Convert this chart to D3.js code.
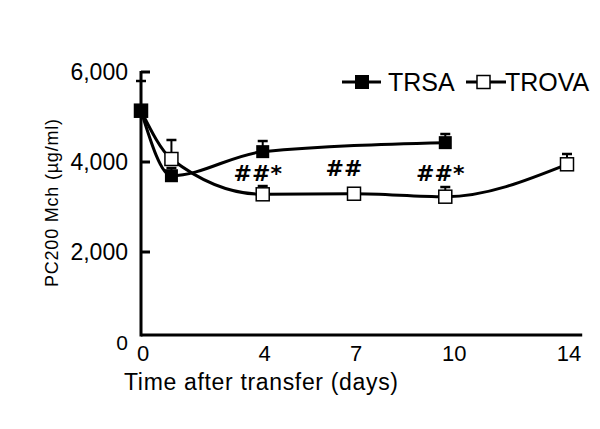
<!DOCTYPE html>
<html lang="en">
<head>
<meta charset="utf-8">
<title>PC200 Mch</title>
<style>
  body { margin: 0; background: #fff; }
  text { font-family: "Liberation Sans", Arial, sans-serif; fill: #000; }
  .annot { font-family: "DejaVu Sans", sans-serif; font-weight: bold; }
</style>
<script src="https://cdn.jsdelivr.net/npm/d3@7"></script>
</head>
<body>
<svg width="600" height="429"></svg>
<script>
// data
const trsaDays = [0, 1, 4, 10];
const trsaValues = [5140, 3695, 4230, 4430];
const trsaErrTop = [5800, 3866, 4466, 4622];
const trovaDays = [0, 1, 4, 7, 10, 14];
const trovaValues = [5140, 4067, 3282, 3295, 3229, 3949];
const trovaErrTop = [5140, 4489, 3466, 3330, 3444, 4178];
const xTicks = [0, 4, 7, 10, 14];
const yTicks = [0, 2000, 4000, 6000];
const annotDays = [4, 7, 10];
const annotLabels = ["##*", "##", "##*"];

const svg = d3.select("svg");
const x = d3.scaleLinear().domain([0, 14]).range([141, 567]);
const y = d3.scaleLinear().domain([0, 6000]).range([342, 72]);
const axisY = y(0) - 7;

// axes
svg.append("line")
    .attr("x1", x(0)).attr("x2", x(14.5))
    .attr("y1", axisY).attr("y2", axisY)
    .attr("stroke", "#000").attr("stroke-width", 3);
svg.append("line")
    .attr("x1", x(0)).attr("x2", x(0))
    .attr("y1", y(6000) - 1).attr("y2", axisY + 1.5)
    .attr("stroke", "#000").attr("stroke-width", 3);
svg.selectAll(".ytick").data(yTicks.filter(d => d > 0)).enter().append("line")
    .attr("x1", x(0)).attr("x2", x(0) + 9)
    .attr("y1", d => y(d)).attr("y2", d => y(d))
    .attr("stroke", "#000").attr("stroke-width", 3);
svg.selectAll(".ylab").data(yTicks).enter().append("text")
    .attr("x", 128).attr("y", d => y(d) + 8)
    .attr("text-anchor", "end")
    .style("font-size", d => d === 0 ? "21px" : "23px")
    .text(d => d3.format(",")(d));
svg.selectAll(".xlab").data(xTicks).enter().append("text")
    .attr("x", d => x(d) + (d === 10 ? 9 : 2))
    .attr("y", 361)
    .attr("text-anchor", "middle")
    .style("font-size", "22px")
    .text(d => d);
svg.append("text")
    .attr("x", 261).attr("y", 390)
    .attr("text-anchor", "middle")
    .style("font-size", "23px")
    .attr("textLength", 274)
    .text("Time after transfer (days)");
svg.append("text")
    .attr("transform", "translate(58,203) rotate(-90)")
    .attr("text-anchor", "middle")
    .style("font-size", "18px")
    .attr("textLength", 168)
    .text("PC200 Mch (µg/ml)");

const line = d3.line().curve(d3.curveMonotoneX).x(d => x(d[0])).y(d => y(d[1]));
const trsa = trsaDays.map((d, i) => [d, trsaValues[i], trsaErrTop[i]]);
const trova = trovaDays.map((d, i) => [d, trovaValues[i], trovaErrTop[i]]);

function errorBars(data) {
    const g = svg.append("g").attr("stroke", "#000");
    g.selectAll("line.v").data(data).enter().append("line")
        .attr("x1", d => x(d[0])).attr("x2", d => x(d[0]))
        .attr("y1", d => y(d[1])).attr("y2", d => y(d[2]))
        .attr("stroke-width", 2);
    g.selectAll("line.c").data(data.filter(d => d[2] > d[1])).enter().append("line")
        .attr("x1", d => x(d[0]) - 5).attr("x2", d => x(d[0]) + 5)
        .attr("y1", d => y(d[2])).attr("y2", d => y(d[2]))
        .attr("stroke-width", 2.5);
}
errorBars(trova);
errorBars(trsa);

svg.append("path").datum(trova).attr("d", line)
    .attr("fill", "none").attr("stroke", "#000").attr("stroke-width", 3);
svg.append("path").datum(trsa).attr("d", line)
    .attr("fill", "none").attr("stroke", "#000").attr("stroke-width", 3);

const sq = 13;
svg.selectAll(".trova").data(trova).enter().append("rect")
    .attr("x", d => x(d[0]) - sq / 2).attr("y", d => y(d[1]) - sq / 2)
    .attr("width", sq).attr("height", sq)
    .attr("fill", "#fff").attr("stroke", "#000").attr("stroke-width", 1.5);
svg.selectAll(".trsa").data(trsa).enter().append("rect")
    .attr("x", d => x(d[0]) - sq / 2).attr("y", d => y(d[1]) - sq / 2)
    .attr("width", sq).attr("height", sq)
    .attr("fill", "#000");

// significance marks
svg.selectAll(".annot").data(annotDays).enter().append("text")
    .attr("class", "annot")
    .attr("x", (d, i) => x(d) - (i === 1 ? 10 : 5))
    .attr("y", (d, i) => i === 1 ? 176 : 181)
    .attr("text-anchor", "middle")
    .style("font-size", "22px")
    .text((d, i) => annotLabels[i]);

// legend
const leg = svg.append("g");
leg.append("line").attr("x1", 342).attr("x2", 381).attr("y1", 82).attr("y2", 82)
    .attr("stroke", "#000").attr("stroke-width", 3);
leg.append("rect").attr("x", 355).attr("y", 75).attr("width", 14).attr("height", 14).attr("fill", "#000");
leg.append("text").attr("x", 388).attr("y", 91).style("font-size", "25px").text("TRSA");
leg.append("line").attr("x1", 466).attr("x2", 506).attr("y1", 82).attr("y2", 82)
    .attr("stroke", "#000").attr("stroke-width", 3);
leg.append("rect").attr("x", 477).attr("y", 75.5).attr("width", 13).attr("height", 13)
    .attr("fill", "#fff").attr("stroke", "#000").attr("stroke-width", 1.5);
leg.append("text").attr("x", 505).attr("y", 91).style("font-size", "25px").text("TROVA");
</script>
</body>
</html>
